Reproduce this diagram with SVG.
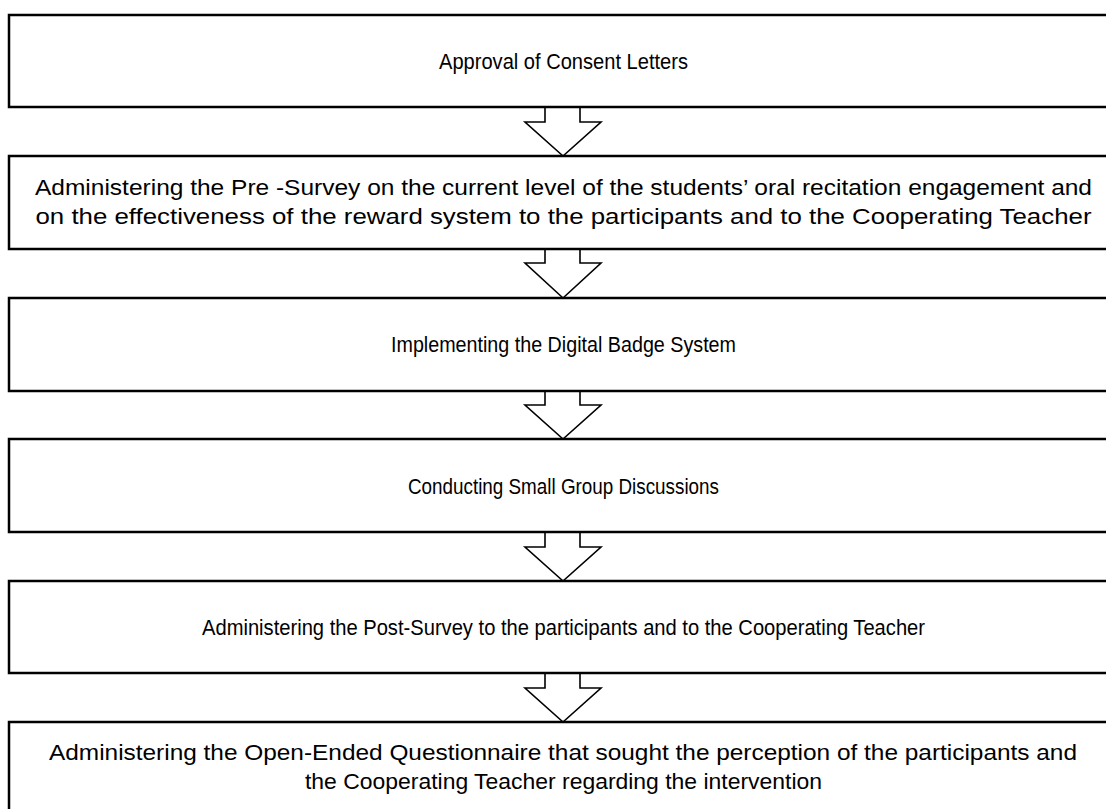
<svg xmlns="http://www.w3.org/2000/svg" width="1106" height="809" viewBox="0 0 1106 809">
  <style>
    .box { fill: #ffffff; stroke: #000000; stroke-width: 2.5; }
    .arrow { fill: #ffffff; stroke: #000000; stroke-width: 1.6; stroke-linejoin: miter; }
    .label { font-family: "Liberation Sans", Arial, sans-serif; font-size: 22px; fill: #000000; text-anchor: middle; }
  </style>
  <rect width="1106" height="809" fill="#ffffff"/>

  <!-- connectors: hollow block arrows between steps -->
  <g id="connectors">
    <polygon class="arrow" points="545,107 545,122 525,122 563,156 601,122 580,122 580,107"/>
    <polygon class="arrow" points="545,249 545,263 525,263 563,298 601,263 580,263 580,249"/>
    <polygon class="arrow" points="545,391 545,405 525,405 563,439 601,405 580,405 580,391"/>
    <polygon class="arrow" points="545,532 545,547 525,547 563,581 601,547 580,547 580,532"/>
    <polygon class="arrow" points="545,673 545,688 525,688 563,722 601,688 580,688 580,673"/>
  </g>

  <g id="step1">
    <rect class="box" x="9" y="15" width="1110" height="92"/>
    <text class="label" x="563.5" y="69" textLength="249" lengthAdjust="spacingAndGlyphs">Approval of Consent Letters</text>
  </g>

  <g id="step2">
    <rect class="box" x="9" y="156" width="1110" height="93"/>
    <text class="label" x="563.5" y="195" textLength="1057" lengthAdjust="spacingAndGlyphs">Administering the Pre -Survey on the current level of the students’ oral recitation engagement and</text>
    <text class="label" x="563.5" y="224" textLength="1056" lengthAdjust="spacingAndGlyphs">on the effectiveness of the reward system to the participants and to the Cooperating Teacher</text>
  </g>

  <g id="step3">
    <rect class="box" x="9" y="298" width="1110" height="93"/>
    <text class="label" x="563.5" y="352" textLength="345" lengthAdjust="spacingAndGlyphs">Implementing the Digital Badge System</text>
  </g>

  <g id="step4">
    <rect class="box" x="9" y="439" width="1110" height="93"/>
    <text class="label" x="563.5" y="494" textLength="311" lengthAdjust="spacingAndGlyphs">Conducting Small Group Discussions</text>
  </g>

  <g id="step5">
    <rect class="box" x="9" y="581" width="1110" height="92"/>
    <text class="label" x="563.5" y="635" textLength="723" lengthAdjust="spacingAndGlyphs">Administering the Post-Survey to the participants and to the Cooperating Teacher</text>
  </g>

  <g id="step6">
    <rect class="box" x="9" y="722" width="1110" height="100"/>
    <text class="label" x="563" y="760" textLength="1028" lengthAdjust="spacingAndGlyphs">Administering the Open-Ended Questionnaire that sought the perception of the participants and</text>
    <text class="label" x="563.5" y="789" textLength="517" lengthAdjust="spacingAndGlyphs">the Cooperating Teacher regarding the intervention</text>
  </g>
</svg>
